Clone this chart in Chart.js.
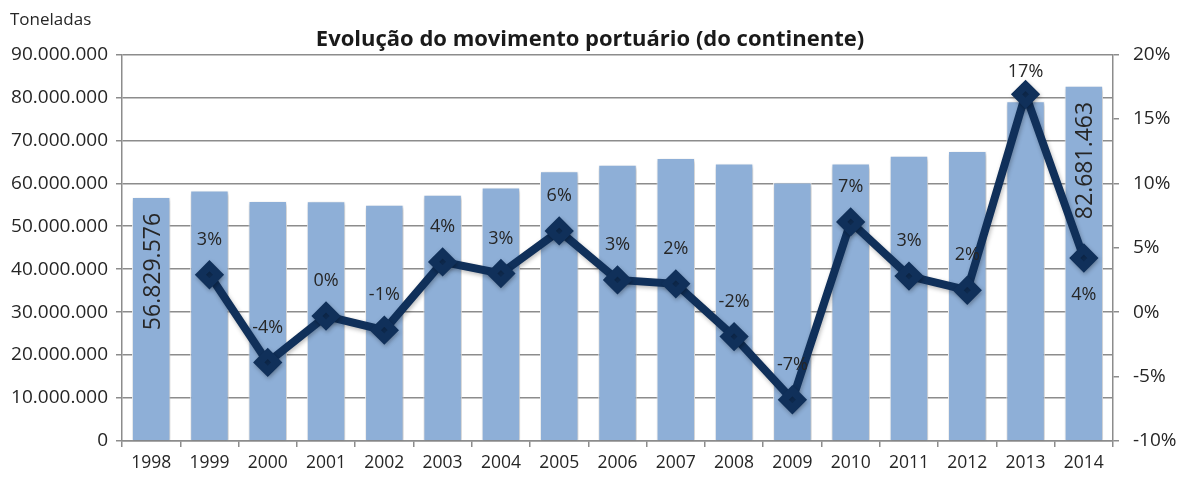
<!DOCTYPE html>
<html lang="pt">
<head>
<meta charset="utf-8">
<title>Evolução do movimento portuário</title>
<script src="https://cdn.jsdelivr.net/npm/chart.js@4.4.1/dist/chart.umd.min.js"></script>
<style>
  body { margin: 0; background: #fff; }
  #caixa { width: 1180px; height: 478px; position: relative; }
</style>
</head>
<body>
<div id="caixa"><canvas id="graficoPortos"></canvas></div>
<script>
// dados
const anos = ['1998', '1999', '2000', '2001', '2002', '2003', '2004', '2005', '2006',
  '2007', '2008', '2009', '2010', '2011', '2012', '2013', '2014'];
const toneladas = [56829576, 58300000, 55900000, 55800000, 55000000, 57300000, 59000000,
  62800000, 64300000, 65900000, 64600000, 60200000, 64600000, 66400000, 67500000,
  79100000, 82681463];
const variacao = [null, 2.9, -3.9, -0.3, -1.4, 3.9, 3.0, 6.3, 2.5, 2.2, -1.9, -6.8,
  7.0, 2.8, 1.7, 16.9, 4.2];
const ticksToneladas = [0, 10000000, 20000000, 30000000, 40000000, 50000000, 60000000,
  70000000, 80000000, 90000000];
const ticksPercent = [-10, -5, 0, 5, 10, 15, 20];

const corTexto = '#262626';
const corGrelha = '#8c8c8c';
const fonte = '"Open Sans", "DejaVu Sans", sans-serif';

function formatarMilhares(n) {
  return String(Math.round(n)).replace(/\B(?=(\d{3})+(?!\d))/g, '.');
}

// rótulos: percentagens sobre a linha, valores verticais na 1ª e última barra
const rotulos = {
  id: 'rotulos',
  beforeDatasetsDraw(chart) {
    const ctx = chart.ctx;
    ctx.save();
    ctx.shadowColor = 'rgba(0,0,0,0.28)';
    ctx.shadowBlur = 4;
    ctx.shadowOffsetX = 1;
    ctx.shadowOffsetY = 2;
  },
  afterDatasetsDraw(chart) {
    const ctx = chart.ctx;
    ctx.restore();
    ctx.save();
    ctx.fillStyle = corTexto;

    // percentagens
    ctx.font = '18px ' + fonte;
    ctx.textAlign = 'center';
    ctx.textBaseline = 'middle';
    const linha = chart.getDatasetMeta(0);
    linha.data.forEach((pt, i) => {
      const v = variacao[i];
      if (v === null) return;
      const abaixo = i === variacao.length - 1;
      let y = pt.y + (abaixo ? 37 : -35);
      y = Math.max(y, chart.chartArea.top + 17);
      ctx.fillText(String(Math.round(v)) + '%', pt.x, y);
    });

    // valores das barras extremas
    ctx.font = '23px ' + fonte;
    const barras = chart.getDatasetMeta(1);
    [0, toneladas.length - 1].forEach(i => {
      const b = barras.data[i];
      ctx.save();
      ctx.translate(b.x + 2, b.y + 16);
      ctx.rotate(-Math.PI / 2);
      ctx.textAlign = 'right';
      ctx.textBaseline = 'middle';
      ctx.fillText(formatarMilhares(toneladas[i]), 0, 0);
      ctx.restore();
    });

    // unidade do eixo
    ctx.font = '17px ' + fonte;
    ctx.textAlign = 'left';
    ctx.textBaseline = 'middle';
    ctx.fillText('Toneladas', 10, 20);
    ctx.restore();
  }
};

new Chart(document.getElementById('graficoPortos'), {
  type: 'bar',
  data: {
    labels: anos,
    datasets: [
      {
        type: 'line',
        label: 'Variação',
        data: variacao,
        yAxisID: 'y1',
        borderColor: '#10305a',
        backgroundColor: '#10305a',
        borderWidth: 8,
        pointStyle: 'rectRot',
        pointRadius: 9,
        pointHoverRadius: 9,
        tension: 0,
        order: 0
      },
      {
        label: 'Toneladas',
        data: toneladas,
        yAxisID: 'y',
        backgroundColor: '#8eafd7',
        borderColor: '#ffffff',
        borderWidth: 1,
        barPercentage: 0.66,
        categoryPercentage: 1,
        order: 1
      }
    ]
  },
  options: {
    responsive: true,
    maintainAspectRatio: false,
    animation: false,
    layout: { padding: 0 },
    plugins: {
      legend: { display: false },
      tooltip: { enabled: false },
      title: {
        display: true,
        text: 'Evolução do movimento portuário (do continente)',
        color: '#1a1a1a',
        font: { family: fonte, size: 22, weight: 'bold', lineHeight: 1.2 },
        padding: { top: 27, bottom: 1 }
      }
    },
    scales: {
      x: {
        grid: {
          offset: true,
          drawOnChartArea: false,
          drawTicks: true,
          tickLength: 6,
          color: corGrelha,
          lineWidth: 1.5
        },
        border: { color: corGrelha, width: 1.5 },
        ticks: { color: corTexto, font: { family: fonte, size: 17.5 }, padding: 6, maxRotation: 0 },
        afterFit(scale) { scale.height = 37; }
      },
      y: {
        position: 'left',
        min: 0,
        max: 90000000,
        afterBuildTicks(scale) { scale.ticks = ticksToneladas.map(v => ({ value: v })); },
        grid: { color: corGrelha, lineWidth: 1.5, tickLength: 6 },
        border: { color: corGrelha, width: 1.5 },
        ticks: {
          color: corTexto,
          font: { family: fonte, size: 19 },
          padding: 8,
          callback: v => formatarMilhares(v)
        },
        afterFit(scale) { scale.width = 122; }
      },
      y1: {
        position: 'right',
        min: -10,
        max: 20,
        afterBuildTicks(scale) { scale.ticks = ticksPercent.map(v => ({ value: v })); },
        grid: { drawOnChartArea: false, color: corGrelha, lineWidth: 1.5, tickLength: 6 },
        border: { color: corGrelha, width: 1.5 },
        ticks: {
          color: corTexto,
          font: { family: fonte, size: 19 },
          padding: 14,
          callback: v => v + '%'
        },
        afterFit(scale) { scale.width = 67; }
      }
    }
  },
  plugins: [rotulos]
});
</script>
</body>
</html>
